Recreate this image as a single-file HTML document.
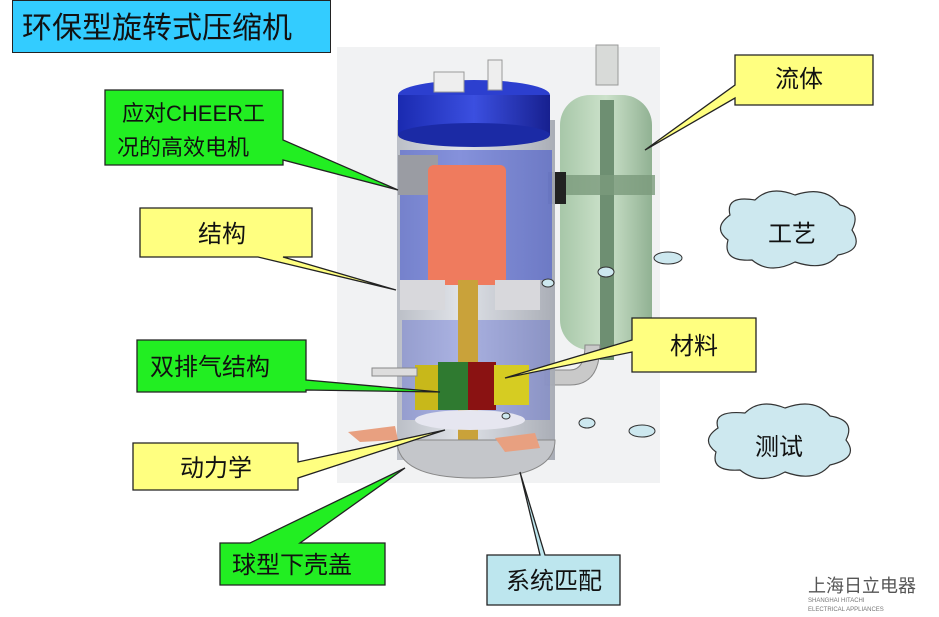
<!DOCTYPE html>
<html><head><meta charset="utf-8"><style>
html,body{margin:0;padding:0;background:#fff;width:939px;height:617px;overflow:hidden}
svg{display:block}
text{font-family:"Liberation Sans","Noto Sans CJK SC",sans-serif;fill:#111}
</style></head><body>
<svg width="939" height="617" viewBox="0 0 939 617" xmlns="http://www.w3.org/2000/svg">
<defs>
<linearGradient id="body" x1="0" x2="1"><stop offset="0" stop-color="#b8bcc4"/><stop offset="0.4" stop-color="#dfe2e8"/><stop offset="1" stop-color="#a6aab3"/></linearGradient>
<linearGradient id="blue" x1="0" x2="1"><stop offset="0" stop-color="#1a2ab0"/><stop offset="0.5" stop-color="#3b4fe0"/><stop offset="1" stop-color="#17208f"/></linearGradient>
<linearGradient id="acc" x1="0" x2="1"><stop offset="0" stop-color="#9fc2a0"/><stop offset="0.5" stop-color="#c8e0c6"/><stop offset="1" stop-color="#86aa88"/></linearGradient>
</defs>
<!-- title -->
<rect x="12.5" y="0.5" width="318" height="52" fill="#33ccff" stroke="#222"/>
<text x="22" y="38" font-size="30" font-family="Liberation Serif,'Noto Serif CJK SC',serif">环保型旋转式压缩机</text>
<!-- photo bg -->
<rect x="337" y="47" width="323" height="436" fill="#f1f2f3"/>
<!-- accumulator -->
<rect x="596" y="45" width="22" height="40" fill="#d8dad8" stroke="#999"/>
<rect x="560" y="95" width="92" height="255" rx="30" fill="url(#acc)" opacity="0.9"/>
<rect x="600" y="100" width="14" height="260" fill="#6e8f72"/>
<path d="M600 345 Q600 385 570 385 L545 385 L545 370 L570 370 Q585 370 585 345Z" fill="#c9c9c9" stroke="#888"/>
<rect x="555" y="175" width="100" height="20" fill="#7a9a7c" opacity="0.8"/>
<rect x="548" y="172" width="18" height="32" fill="#222"/>
<!-- compressor body -->
<rect x="397" y="120" width="158" height="340" fill="url(#body)" opacity="0.95"/>
<rect x="400" y="150" width="152" height="130" fill="#3a4fd0" opacity="0.55"/>
<rect x="402" y="320" width="148" height="100" fill="#5a68d8" opacity="0.4"/>
<rect x="398" y="155" width="40" height="40" fill="#9a9ca3"/>
<rect x="428" y="165" width="78" height="120" rx="6" fill="#ef7b5e"/>
<rect x="458" y="280" width="20" height="160" fill="#c9a23a"/>
<rect x="400" y="280" width="45" height="30" fill="#d8d8dc"/>
<rect x="495" y="280" width="45" height="30" fill="#d8d8dc"/>
<rect x="415" y="365" width="45" height="45" fill="#c8b81a"/>
<rect x="438" y="362" width="30" height="48" fill="#2f7a30"/>
<rect x="468" y="362" width="28" height="48" fill="#8a1212"/>
<rect x="494" y="365" width="35" height="40" fill="#d6cc22"/>
<rect x="372" y="368" width="45" height="8" fill="#ddd" stroke="#888"/>
<ellipse cx="470" cy="420" rx="55" ry="10" fill="#e6e6f0"/>
<!-- cap -->
<ellipse cx="474" cy="95" rx="76" ry="15" fill="#2c3fcf"/>
<rect x="398" y="95" width="152" height="40" fill="url(#blue)"/>
<ellipse cx="474" cy="135" rx="76" ry="12" fill="#1b2aa5"/>
<rect x="434" y="72" width="30" height="20" fill="#eee" stroke="#999"/>
<rect x="488" y="60" width="14" height="30" fill="#eee" stroke="#999"/>
<!-- bottom -->
<path d="M397 440 Q397 478 474 478 Q555 478 555 440Z" fill="#c4c6ca" stroke="#888"/>
<path d="M348 432 L395 426 L398 440 L360 442Z" fill="#e8a080"/>
<path d="M495 438 L535 433 L540 448 L505 452Z" fill="#e8a080"/>
<!-- bubbles -->
<g fill="#cde8ef" stroke="#333">
<ellipse cx="668" cy="258" rx="14" ry="6"/><ellipse cx="606" cy="272" rx="8" ry="5"/><ellipse cx="548" cy="283" rx="6" ry="4"/>
<ellipse cx="587" cy="423" rx="8" ry="5"/><ellipse cx="642" cy="431" rx="13" ry="6"/><ellipse cx="506" cy="416" rx="4" ry="3"/>
</g>
<!-- clouds -->
<g fill="#cde8ef" stroke="#333" stroke-width="1.2">
<path d="M730 215 Q725 195 755 200 Q770 185 795 195 Q825 185 840 205 Q862 210 852 230 Q865 250 838 255 Q825 272 795 262 Q770 275 752 260 Q722 262 728 240 Q712 228 730 215Z"/>
<path d="M718 428 Q712 410 745 413 Q760 398 785 408 Q815 397 830 416 Q856 420 846 440 Q860 458 830 465 Q815 483 785 472 Q760 486 740 470 Q710 472 716 452 Q700 440 718 428Z"/>
</g>
<text x="768" y="242" font-size="24">工艺</text>
<text x="755" y="455" font-size="24">测试</text>
<!-- callouts -->
<g stroke="#222" stroke-width="1.3">
<path d="M105 90 H283 V140 L398 190 L283 160 V165 H105Z" fill="#22ee22"/>
<path d="M140 208 H312 V257 H283 L396 290 L258 257 H140Z" fill="#ffff80"/>
<path d="M137 340 H306 V380 L440 392 L306 390 V392 H137Z" fill="#22ee22"/>
<path d="M133 443 H298 V462 L445 430 L298 478 V490 H133Z" fill="#ffff80"/>
<path d="M220 543 H250 L405 468 L300 543 H385 V585 H220Z" fill="#22ee22"/>
<path d="M487 555 H540 L520 472 L545 555 H620 V605 H487Z" fill="#bde6ee"/>
<path d="M632 318 H756 V372 H632 V352 L505 378 L632 340Z" fill="#ffff80"/>
<path d="M735 55 H873 V105 H735 V98 L645 150 L735 85Z" fill="#ffff80"/>
</g>
<text x="122" y="121" font-size="22">应对CHEER工</text>
<text x="117" y="155" font-size="22">况的高效电机</text>
<text x="198" y="242" font-size="24">结构</text>
<text x="150" y="375" font-size="24">双排气结构</text>
<text x="180" y="476" font-size="24">动力学</text>
<text x="232" y="573" font-size="24">球型下壳盖</text>
<text x="506" y="589" font-size="24">系统匹配</text>
<text x="670" y="354" font-size="24">材料</text>
<text x="775" y="87" font-size="24">流体</text>
<text x="808" y="592" font-size="18" fill="#555" style="fill:#555">上海日立电器</text>
<text x="808" y="602" font-size="6" style="fill:#777">SHANGHAI HITACHI</text>
<text x="808" y="611" font-size="6" style="fill:#777">ELECTRICAL APPLIANCES</text>
</svg>
</body></html>
